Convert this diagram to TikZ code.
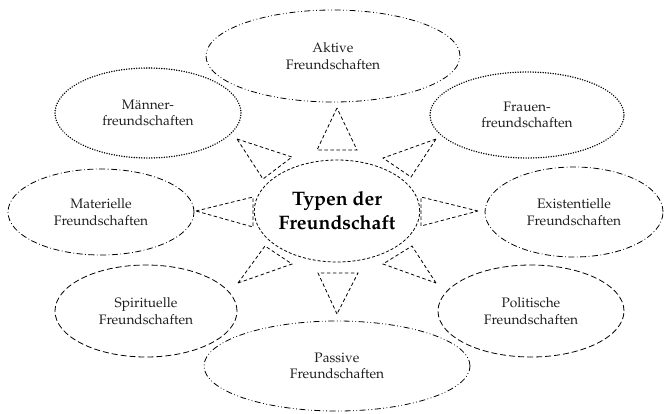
\documentclass[tikz,border=0pt]{standalone}
\usepackage[T1]{fontenc}
\renewcommand{\rmdefault}{ppl}
\usetikzlibrary{shapes.geometric}
\begin{document}
\begin{tikzpicture}[x=1pt,y=-1pt,
  oval/.style={ellipse, draw, inner sep=0pt, align=center, font=\fontsize{13.7}{16.5}\selectfont, text=black!88, line width=0.8pt},
  ddot/.style={oval, dash pattern=on 6pt off 2.5pt on 0.8pt off 2.5pt on 0.8pt off 2.5pt},
  dd/.style={oval, dash pattern=on 6pt off 2.5pt on 0.8pt off 2.5pt},
  dots/.style={oval, line width=1.6pt, dash pattern=on 0.01pt off 2.5pt, line cap=round},
  dsh/.style={oval, dash pattern=on 6pt off 3pt},
  core/.style={ellipse, draw, inner sep=0pt, align=center, line width=0.8pt, dash pattern=on 3pt off 2pt, font=\fontsize{19.5}{24}\selectfont\bfseries},
  ray/.style={draw, line width=0.8pt, dash pattern=on 3.5pt off 2.5pt}
]
\useasboundingbox (0,0) rectangle (664,413);
\node[ddot, minimum width=254pt, minimum height=92pt] (akt) at (333,56) {Aktive\\Freundschaften};
\node[ddot, minimum width=266pt, minimum height=90pt] (pas) at (337,366) {Passive\\Freundschaften};
\node[dots, minimum width=186pt, minimum height=90pt] (man) at (148,113) {M\"anner-\\freundschaften};
\node[dots, minimum width=194pt, minimum height=86pt] (fra) at (527,115) {Frauen-\\freundschaften};
\node[dd, minimum width=186pt, minimum height=86pt] (mat) at (101,212) {Materielle\\Freundschaften};
\node[dd, minimum width=178pt, minimum height=90pt] (exi) at (574,212) {Existentielle\\Freundschaften};
\node[dsh, minimum width=182pt, minimum height=92pt] (spi) at (146,311) {Spirituelle\\Freundschaften};
\node[dsh, minimum width=186pt, minimum height=92pt] (pol) at (531,311) {Politische\\Freundschaften};
\node[core, minimum width=140pt, minimum height=102pt] (typ) at (337,211) {Typen der\\Freundschaft};
% rays
\draw[ray] (337,108) -- (317,150) -- (357,150) -- cycle;
\draw[ray] (337,314) -- (318,273) -- (358,273) -- cycle;
\draw[ray] (196,211) -- (253,197) -- (253,227) -- cycle;
\draw[ray] (478,211) -- (421,197) -- (421,226) -- cycle;
\draw[ray] (237,139) -- (292,157) -- (263,179) -- cycle;
\draw[ray] (436,139) -- (383,158) -- (411,177) -- cycle;
\draw[ray] (238,283) -- (265,246) -- (292,264) -- cycle;
\draw[ray] (436,283) -- (412,246) -- (383,264) -- cycle;
\end{tikzpicture}
\end{document}
